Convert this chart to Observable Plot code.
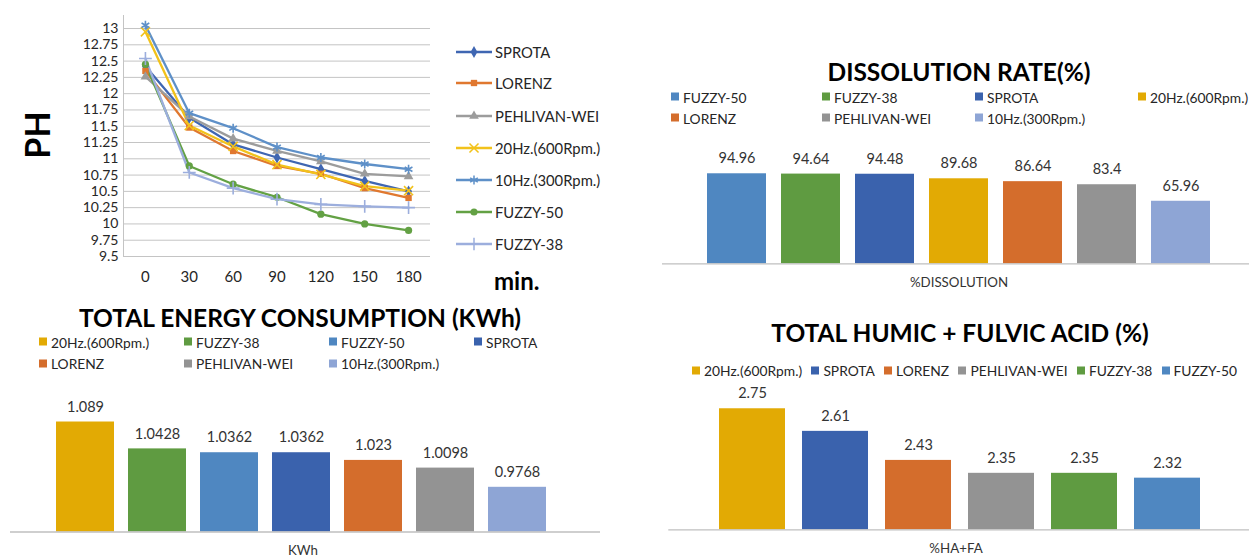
<!DOCTYPE html>
<html><head><meta charset="utf-8">
<script src="https://cdn.jsdelivr.net/npm/d3@7"></script>
<script src="https://cdn.jsdelivr.net/npm/@observablehq/plot@0.6"></script>
<style>
body{margin:0;background:#fff;}
#root{position:relative;width:1249px;height:558px;overflow:hidden;font-family:Lato,"Open Sans",sans-serif;color:#262626;background:#fff;}
.abs{position:absolute;white-space:nowrap;}
.cc{transform:translate(-50%,-50%);}
.cl{transform:translate(0,-50%);}
.title{font-weight:700;font-size:24.5px;color:#000;}
.leg{font-size:13.8px;display:flex;align-items:center;color:#262626;}
.sw{width:8px;height:8px;margin-right:4px;display:inline-block;flex:none;}
.plotbox{position:absolute;}
</style></head><body><div id="root"></div>
<script>
// ---------- PH line chart data ----------
const times = [0, 30, 60, 90, 120, 150, 180];
const phSeries = ["SPROTA", "LORENZ", "PEHLIVAN-WEI", "20Hz.(600Rpm.)", "10Hz.(300Rpm.)", "FUZZY-50", "FUZZY-38"];
const phSPROTA   = [12.42, 11.63, 11.22, 11.02, 10.84, 10.66, 10.50];
const phLORENZ   = [12.35, 11.48, 11.12, 10.89, 10.77, 10.55, 10.40];
const phPEHLIVAN = [12.26, 11.65, 11.31, 11.12, 10.96, 10.77, 10.73];
const ph20Hz     = [12.95, 11.51, 11.19, 10.91, 10.76, 10.58, 10.51];
const ph10Hz     = [13.05, 11.70, 11.47, 11.18, 11.02, 10.92, 10.84];
const phFUZZY50  = [12.45, 10.89, 10.61, 10.41, 10.15, 10.00, 9.90];
const phFUZZY38  = [12.54, 10.79, 10.55, 10.38, 10.30, 10.27, 10.25];
const phTicks = [9.5, 9.75, 10, 10.25, 10.5, 10.75, 11, 11.25, 11.5, 11.75, 12, 12.25, 12.5, 12.75, 13];
const phColors = ["#3F66B2", "#E0782F", "#9C9C9C", "#F2C21B", "#5E90C8", "#63A144", "#9CAEDD"];
const phSymbols = ["diamond", "square", "triangle", "times", "asterisk", "circle", "plus"];
const phFilled = ["SPROTA", "LORENZ", "PEHLIVAN-WEI", "FUZZY-50"];

// ---------- bar charts data ----------
const methods = ["FUZZY-50", "FUZZY-38", "SPROTA", "20Hz.(600Rpm.)", "LORENZ", "PEHLIVAN-WEI", "10Hz.(300Rpm.)"];
const methodColors = ["#4F87C1", "#5F9B41", "#3A62AD", "#E2AA04", "#D46D2C", "#939393", "#8EA5D5"];

const disCats = ["FUZZY-50", "FUZZY-38", "SPROTA", "20Hz.(600Rpm.)", "LORENZ", "PEHLIVAN-WEI", "10Hz.(300Rpm.)"];
const disValues = [94.96, 94.64, 94.48, 89.68, 86.64, 83.4, 65.96];

const enCats = ["20Hz.(600Rpm.)", "FUZZY-38", "FUZZY-50", "SPROTA", "LORENZ", "PEHLIVAN-WEI", "10Hz.(300Rpm.)"];
const enValues = [1.089, 1.0428, 1.0362, 1.0362, 1.023, 1.0098, 0.9768];

const haCats = ["20Hz.(600Rpm.)", "SPROTA", "LORENZ", "PEHLIVAN-WEI", "FUZZY-38", "FUZZY-50"];
const haValues = [2.75, 2.61, 2.43, 2.35, 2.35, 2.32];

// ---------- helpers ----------
const root = document.getElementById("root");
function place(node, left, top) {
  const box = document.createElement("div");
  box.className = "plotbox";
  box.style.left = left + "px";
  box.style.top = top + "px";
  box.appendChild(node);
  root.appendChild(box);
}
function text(str, x, y, cls, extra) {
  const d = document.createElement("div");
  d.className = "abs " + cls;
  d.style.left = x + "px";
  d.style.top = y + "px";
  d.textContent = str;
  if (extra) Object.assign(d.style, extra);
  root.appendChild(d);
  return d;
}
const colorOf = new Map(methods.map((m, i) => [m, methodColors[i]]));
function legendItem(name, x, y) {
  const d = document.createElement("div");
  d.className = "abs leg cl";
  d.style.left = x + "px";
  d.style.top = y + "px";
  const s = document.createElement("span");
  s.className = "sw";
  s.style.background = colorOf.get(name);
  d.appendChild(s);
  d.appendChild(document.createTextNode(name));
  root.appendChild(d);
}

// ---------- PH line chart ----------
const phValues = [phSPROTA, phLORENZ, phPEHLIVAN, ph20Hz, ph10Hz, phFUZZY50, phFUZZY38];
const phData = phSeries.flatMap((s, i) => times.map((t, j) => ({s, t, v: phValues[i][j]})));

const phPlot = Plot.plot({
  width: 440, height: 300,
  marginLeft: 123, marginRight: 10, marginTop: 15, marginBottom: 44,
  style: {fontFamily: "Lato, sans-serif", color: "#262626", background: "transparent"},
  x: {domain: [-15, 195], axis: null},
  y: {domain: [9.5, 13.2], axis: null},
  color: {domain: phSeries, range: phColors},
  symbol: {domain: phSeries, range: phSymbols},
  marks: [
    Plot.ruleY(phTicks, {stroke: "#c4c4c4", strokeWidth: 1}),
    Plot.ruleX([-15], {stroke: "#c4c4c4", strokeWidth: 1}),
    Plot.axisY({ticks: phTicks, tickSize: 0, tickPadding: 5, fontSize: 14, label: null, tickFormat: d => String(d)}),
    Plot.axisX({ticks: times, tickSize: 0, tickPadding: 15, fontSize: 15, label: null, tickFormat: d => String(d)}),
    Plot.line(phData, {x: "t", y: "v", stroke: "s", strokeWidth: 2.3}),
    Plot.dot(phData, {filter: d => phFilled.includes(d.s), x: "t", y: "v", symbol: "s", fill: "s", r: 3.6}),
    Plot.dot(phData, {filter: d => !phFilled.includes(d.s), x: "t", y: "v", symbol: "s", stroke: "s", strokeWidth: 1.6, r: 4.2})
  ]
});
place(phPlot, 0, 0);

text("PH", 36, 135, "cc", {fontWeight: 700, fontSize: "34px", color: "#000", transform: "translate(-50%,-50%) rotate(-90deg)"});
text("min.", 494, 280, "cl", {fontWeight: 700, fontSize: "24px", color: "#000"});

// line legend
const legendYs = [51.7, 83.3, 116, 148.3, 180, 211.7, 244];
phSeries.forEach((s, i) => {
  const d = document.createElement("div");
  d.className = "abs cl";
  d.style.left = "456px";
  d.style.top = legendYs[i] + "px";
  d.style.display = "flex";
  d.style.alignItems = "center";
  d.style.fontSize = "14.8px";
  d.style.color = "#262626";
  const svg = d3.create("svg").attr("width", 39).attr("height", 14).style("flex", "none");
  svg.append("line").attr("x1", 0).attr("x2", 36).attr("y1", 7).attr("y2", 7)
    .attr("stroke", phColors[i]).attr("stroke-width", 2.3);
  const symMap = {diamond: d3.symbolDiamond, square: d3.symbolSquare, triangle: d3.symbolTriangle,
    times: d3.symbolTimes, asterisk: d3.symbolAsterisk, circle: d3.symbolCircle, plus: d3.symbolPlus};
  const filled = phFilled.includes(s);
  svg.append("path").attr("transform", "translate(18,7)")
    .attr("d", d3.symbol(symMap[phSymbols[i]], filled ? 40 : 55)())
    .attr("fill", filled ? phColors[i] : "none")
    .attr("stroke", filled ? "none" : phColors[i]).attr("stroke-width", 1.5);
  d.appendChild(svg.node());
  d.appendChild(document.createTextNode(s));
  root.appendChild(d);
});

// ---------- generic bar chart ----------
function barChart({cats, values, yDomain, width, height, marginTop, marginBottom, marginLeft, xRange, pad}) {
  const data = cats.map((c, i) => ({c, v: values[i]}));
  return Plot.plot({
    width, height, marginTop, marginBottom, marginLeft, marginRight: 0,
    style: {fontFamily: "Lato, sans-serif", color: "#262626", background: "transparent", overflow: "visible"},
    x: {type: "band", domain: cats, range: xRange, paddingInner: pad, paddingOuter: pad / 2, axis: null},
    y: {domain: yDomain, axis: null},
    color: {domain: methods, range: methodColors},
    marks: [
      Plot.barY(data, {x: "c", y1: yDomain[0], y2: "v", fill: "c"}),
      Plot.ruleY([yDomain[0]], {stroke: "#bfbfbf", strokeWidth: 1.3}),
      Plot.text(data, {x: "c", y: "v", text: d => String(d.v), dy: -15, fontSize: 14.5, fill: "#333"})
    ]
  });
}

// Dissolution
place(barChart({cats: disCats, values: disValues, yDomain: [0, 100], width: 587, height: 140,
  marginTop: 38.5, marginBottom: 6.7, marginLeft: 0, xRange: [37.9, 555.9], pad: 0.2}), 662, 130);
text("DISSOLUTION RATE(%)", 959, 71, "cc title");
const disCols = [671, 822, 975, 1138];
disCats.forEach((c, i) => legendItem(c, disCols[i % 4], i < 4 ? 96.5 : 117.5));
text("%DISSOLUTION", 959, 282, "cc", {fontSize: "13.3px", color: "#333"});

// Energy
place(barChart({cats: enCats, values: enValues, yDomain: [0.9, 1.1], width: 600, height: 160,
  marginTop: 35.1, marginBottom: 8.5, marginLeft: 10, xRange: [46.4, 556.6], pad: 0.19}), 0, 380);
text("TOTAL ENERGY CONSUMPTION (KWh)", 300, 316.5, "cc title");
const enCols = [39, 184, 329, 474];
enCats.forEach((c, i) => legendItem(c, enCols[i % 4], i < 4 ? 341.7 : 363.3));
text("KWh", 303, 550, "cc", {fontSize: "13.3px", color: "#333"});

// Humic + Fulvic
place(barChart({cats: haCats, values: haValues, yDomain: [2, 2.8], width: 587, height: 160,
  marginTop: 20.2, marginBottom: 10.7, marginLeft: 6.3, xRange: [46.9, 549.1], pad: 0.2}), 662, 380);
text("TOTAL HUMIC + FULVIC ACID (%)", 960, 332, "cc title");
{
  const row = document.createElement("div");
  row.className = "abs leg cl";
  row.style.left = "692px";
  row.style.top = "370px";
  row.style.width = "545px";
  row.style.justifyContent = "space-between";
  haCats.forEach(c => {
    const it = document.createElement("span");
    it.style.display = "flex"; it.style.alignItems = "center";
    const s = document.createElement("span");
    s.className = "sw"; s.style.background = colorOf.get(c);
    it.appendChild(s); it.appendChild(document.createTextNode(c));
    row.appendChild(it);
  });
  root.appendChild(row);
}
text("%HA+FA", 956, 548, "cc", {fontSize: "13.3px", color: "#333"});
</script></body></html>
